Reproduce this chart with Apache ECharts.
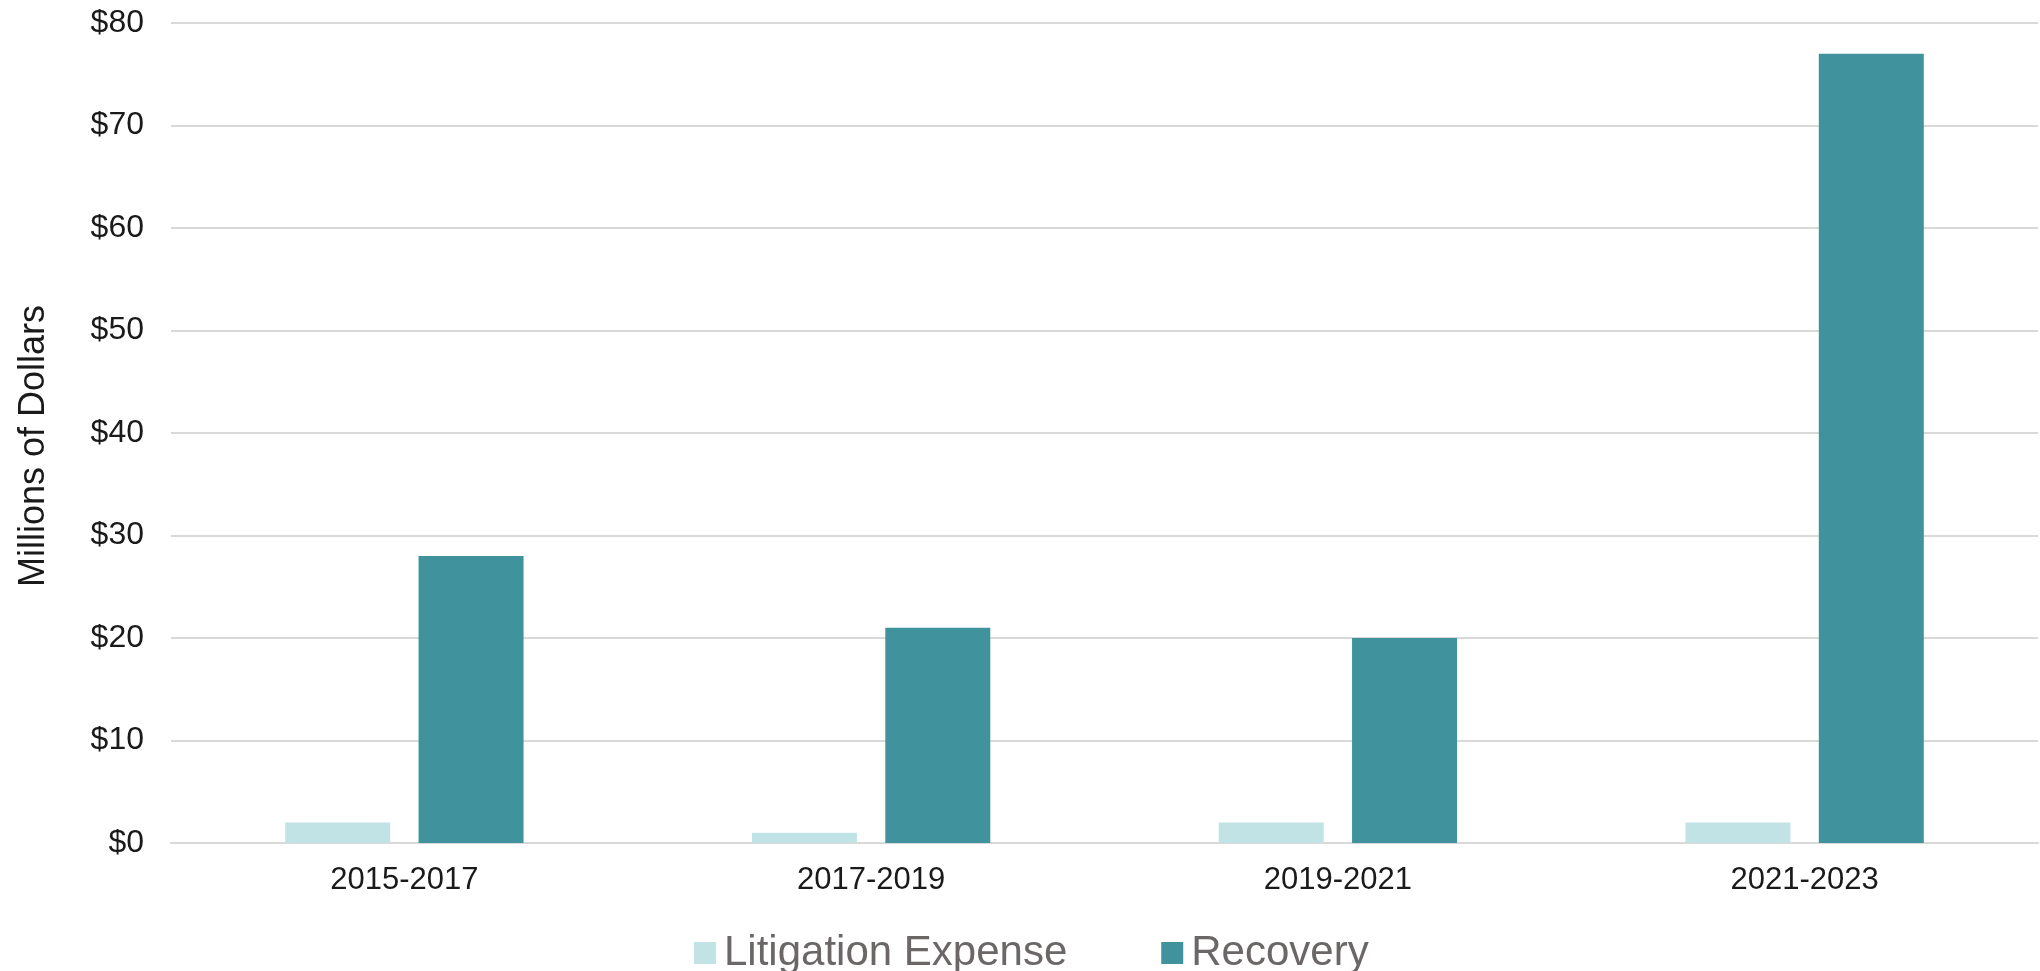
<!DOCTYPE html>
<html>
<head>
<meta charset="utf-8">
<script src="https://cdn.jsdelivr.net/npm/echarts@6/dist/echarts.min.js"></script>
<style>
  html, body { margin: 0; padding: 0; background: #fff; }
  #chart { width: 2040px; height: 971px; }
</style>
</head>
<body>
<div id="chart"></div>
<script>
// 2年区间
const periods = ["2015-2017", "2017-2019", "2019-2021", "2021-2023"];
const litigationExpense = [2, 1, 2, 2];
const recovery = [28, 21, 20, 77];
const yTicks = [0, 10, 20, 30, 40, 50, 60, 70, 80];

const font = "Liberation Sans, Arial, sans-serif";
const myChart = echarts.init(document.getElementById("chart"));

const option = {
  animation: false,
  color: ["#c1e3e6", "#40939c"],
  textStyle: { fontFamily: font },
  grid: {
    left: 171,
    right: 2,
    top: 23,
    bottom: 128,
  },
  legend: {
    left: 689,
    top: 927,
    itemWidth: 22,
    itemHeight: 22,
    itemGap: 94,
    icon: "rect",
    textStyle: { fontSize: 42, color: "#6b6767", fontFamily: font, padding: [0, 0, 0, 3] },
    data: ["Litigation Expense", "Recovery"],
  },
  xAxis: {
    type: "category",
    data: periods,
    axisTick: { show: false },
    axisLine: { lineStyle: { color: "#d9d9d9", width: 2 } },
    axisLabel: { fontSize: 31, color: "#1a1a1a", margin: 22 },
  },
  yAxis: {
    type: "value",
    min: yTicks[0],
    max: yTicks[yTicks.length - 1],
    interval: 10,
    name: "Millions of Dollars",
    nameLocation: "middle",
    nameGap: 119,
    nameTextStyle: { fontSize: 36, color: "#1a1a1a", padding: [0, 0, 0, -26] },
    axisLine: { show: false },
    axisTick: { show: false },
    axisLabel: {
      fontSize: 32,
      color: "#1a1a1a",
      margin: 27,
      formatter: (v) => "$" + v,
    },
    splitLine: { lineStyle: { color: "#d9d9d9", width: 2 } },
  },
  series: [
    {
      name: "Litigation Expense",
      type: "bar",
      barWidth: 105,
      barGap: "27%",
      data: litigationExpense,
    },
    {
      name: "Recovery",
      type: "bar",
      barWidth: 105,
      data: recovery,
    },
  ],
};
myChart.setOption(option);
</script>
</body>
</html>
